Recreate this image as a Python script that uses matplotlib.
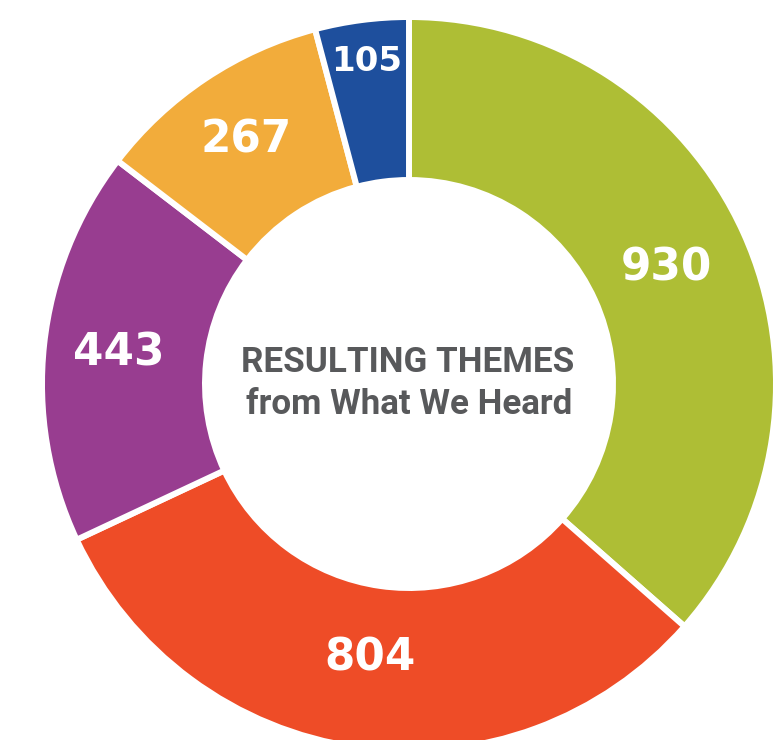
import matplotlib.pyplot as plt
import numpy as np

# theme counts, clockwise from 12 o'clock
counts = [930, 804, 443, 267, 105]
labels = ["930", "804", "443", "267", "105"]
colors = ["#AEBE35", "#EE4C27", "#983D90", "#F2AC3B", "#1E4F9D"]
center_lines = ["RESULTING THEMES", "from What We Heard"]

# label distance from centre (fraction of radius) and size per slice
label_dist = [0.77, 0.755, 0.795, 0.80, 0.885]
label_size = [31.5, 31.5, 31.5, 31.5, 24.5]

W, H = 783, 740
cx, cy = 409, H - 384
R = 367

fig = plt.figure(figsize=(W / 100, H / 100), dpi=100)
ax = fig.add_axes([0, 0, 1, 1])

wedges, _ = ax.pie(counts, colors=colors, startangle=90, counterclock=False,
                   center=(cx, cy), radius=R,
                   wedgeprops=dict(width=163, edgecolor="white", linewidth=4.3))

for w, lab, d, fs in zip(wedges, labels, label_dist, label_size):
    ang = np.deg2rad((w.theta1 + w.theta2) / 2)
    x = cx + d * R * np.cos(ang)
    y = cy + d * R * np.sin(ang)
    ax.text(x, y, lab, color="white", fontsize=fs, fontweight="bold",
            ha="center", va="center", family="DejaVu Sans")

ax.text(cx - 1, H - 363, center_lines[0], color="#58595B", fontsize=25.2,
        fontweight="bold", family="Roboto", ha="center", va="center")
ax.text(cx, H - 405, center_lines[1], color="#58595B", fontsize=25.2,
        fontweight="bold", family="Roboto", ha="center", va="center")

ax.set_xlim(0, W)
ax.set_ylim(0, H)
ax.set_aspect("auto")
ax.axis("off")

fig.savefig("out.png", dpi=100, facecolor="white")
